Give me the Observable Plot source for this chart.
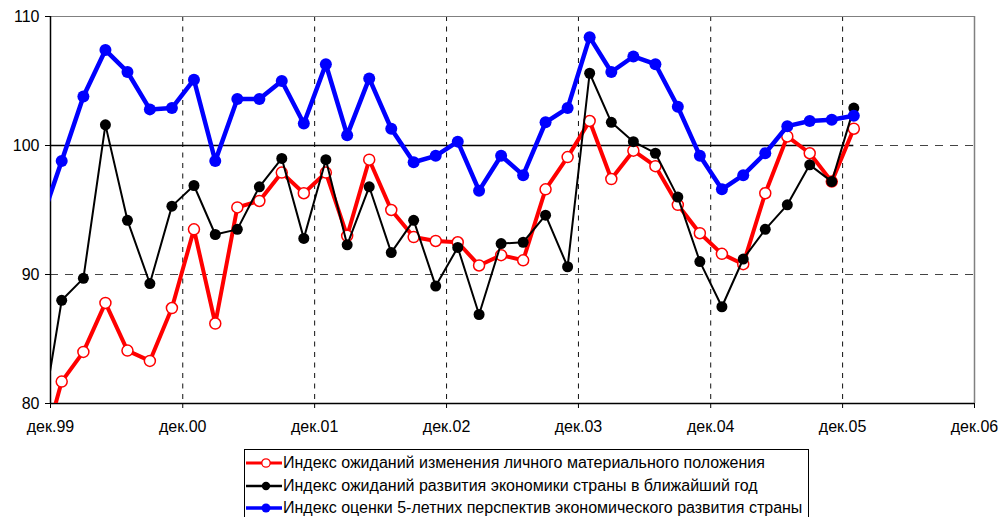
<!DOCTYPE html>
<html>
<head>
<meta charset="utf-8">
<script src="https://cdn.jsdelivr.net/npm/d3@7"></script>
<script src="https://cdn.jsdelivr.net/npm/@observablehq/plot@0.6"></script>
<style>
  html, body { margin: 0; padding: 0; background: #fff; overflow: hidden; }
  body { font-family: Arial, "Liberation Sans", sans-serif; width: 1006px; height: 517px; }
  #chart svg { display: block; }
  .legend {
    margin-left: 244px; margin-top: 2px;
    width: 565px; height: 90px; box-sizing: border-box;
    border: 1px solid #000; padding-top: 2px;
    font-size: 16px; color: #000;
  }
  .legend .row { display: flex; align-items: center; height: 22.5px; white-space: nowrap; }
  .legend svg { display: block; margin-left: 1px; margin-right: 1px; }
</style>
</head>
<body>
<div id="chart"></div>
<div class="legend" id="legend"></div>
<script>
// Survey dates (bimonthly), Nov 1999 - Jan 2006
const months = [
  "1999-11",
  "2000-01","2000-03","2000-05","2000-07","2000-09","2000-11",
  "2001-01","2001-03","2001-05","2001-07","2001-09","2001-11",
  "2002-01","2002-03","2002-05","2002-07","2002-09","2002-11",
  "2003-01","2003-03","2003-05","2003-07","2003-09","2003-11",
  "2004-01","2004-03","2004-05","2004-07","2004-09","2004-11",
  "2005-01","2005-03","2005-05","2005-07","2005-09","2005-11",
  "2006-01"
];
// Индекс ожиданий изменения личного материального положения
const personal = [
  75.5,
  81.7, 84.0, 87.8, 84.1, 83.3, 87.4,
  93.5, 86.2, 95.2, 95.7, 97.9, 96.3,
  97.9, 93.0, 98.9, 95.0, 92.9, 92.6,
  92.5, 90.7, 91.5, 91.1, 96.6, 99.1,
  101.9, 97.4, 99.6, 98.4, 95.4, 93.2,
  91.6, 90.8, 96.3, 100.7, 99.4, 97.2,
  101.3
];
// Индекс ожиданий развития экономики страны в ближайший год
const economyYear = [
  77.6,
  88.0, 89.7, 101.6, 94.2, 89.3, 95.3,
  96.9, 93.1, 93.5, 96.8, 99.0, 92.8,
  98.9, 92.3, 96.8, 91.7, 94.2, 89.1,
  92.1, 86.9, 92.4, 92.5, 94.6, 90.6,
  105.6, 101.8, 100.3, 99.4, 96.0, 91.0,
  87.5, 91.2, 93.5, 95.4, 98.5, 97.2,
  102.9
];
// Индекс оценки 5-летних перспектив экономического развития страны
const fiveYear = [
  93.8,
  98.8, 103.8, 107.4, 105.7, 102.8, 102.9,
  105.1, 98.8, 103.6, 103.6, 105.0, 101.7,
  106.3, 100.8, 105.2, 101.3, 98.7, 99.2,
  100.3, 96.5, 99.2, 97.7, 101.8, 102.9,
  108.4, 105.7, 106.9, 106.3, 103.0, 99.2,
  96.6, 97.7, 99.4, 101.5, 101.9, 102.0,
  102.3
];
const seriesNames = [
  "Индекс ожиданий изменения личного материального положения",
  "Индекс ожиданий развития экономики страны в ближайший год",
  "Индекс оценки 5-летних перспектив экономического развития страны"
];
const seriesColors = ["#ff0000", "#000000", "#0000ff"];
const yTicks = [80, 90, 100, 110];
const xTickYears = [1999, 2000, 2001, 2002, 2003, 2004, 2005, 2006];
const tickMonthName = "дек.";

const parse = d3.utcParse("%Y-%m");
const dates = months.map(parse);
const rows = vals => dates.map((d, i) => ({date: d, value: vals[i]}));
const red = rows(personal), black = rows(economyYear), blue = rows(fiveYear);
const xTicks = xTickYears.map(y => new Date(Date.UTC(y, 11, 1)));
const xDomain = [xTicks[0], xTicks[xTicks.length - 1]];
const yDomain = [yTicks[0], yTicks[yTicks.length - 1]];

const chart = Plot.plot({
  width: 1006,
  height: 447,
  marginLeft: 50,
  marginRight: 32,
  marginTop: 16,
  marginBottom: 44,
  style: {fontFamily: 'Arial, "Liberation Sans", sans-serif', fontSize: "16px", color: "#000", background: "#fff"},
  x: {type: "utc", domain: xDomain, label: null},
  y: {domain: yDomain, label: null},
  marks: [
    // grid
    Plot.ruleX(xTicks.slice(1, -1), {stroke: "#111", strokeDasharray: "5,5.5", strokeWidth: 1}),
    Plot.ruleY(yTicks.slice(1, -1), {stroke: "#444", strokeDasharray: "8,7", strokeWidth: 1}),
    // plot-area border (top, right)
    Plot.ruleY([yDomain[1]], {stroke: "#808080", strokeWidth: 1}),
    Plot.ruleX([xDomain[1]], {stroke: "#808080", strokeWidth: 1.5}),
    // solid reference line at 100 over the data span
    Plot.ruleY([100], {x1: dates[0], x2: dates[dates.length - 1], stroke: "#000", strokeWidth: 1.5, clip: true}),
    // axes
    Plot.ruleX([xDomain[0]], {stroke: "#000", strokeWidth: 1.5}),
    Plot.ruleY([yDomain[0]], {stroke: "#000", strokeWidth: 1.5}),
    Plot.axisY(yTicks, {tickSize: 5, tickPadding: 6, label: null, fontSize: 16}),
    Plot.axisX(xTicks, {
      tickSize: 5, tickPadding: 12, label: null, fontSize: 16,
      tickFormat: d => tickMonthName + String(d.getUTCFullYear()).slice(2)
    }),
    // series
    Plot.line(red, {x: "date", y: "value", stroke: seriesColors[0], strokeWidth: 4, clip: true}),
    Plot.dot(red, {x: "date", y: "value", r: 5.5, fill: "#fff", stroke: seriesColors[0], strokeWidth: 1.5, clip: true}),
    Plot.line(black, {x: "date", y: "value", stroke: seriesColors[1], strokeWidth: 2, clip: true}),
    Plot.dot(black, {x: "date", y: "value", r: 5.5, fill: seriesColors[1], stroke: "none", clip: true}),
    Plot.line(blue, {x: "date", y: "value", stroke: seriesColors[2], strokeWidth: 4.5, clip: true}),
    Plot.dot(blue, {x: "date", y: "value", r: 6, fill: seriesColors[2], stroke: "none", clip: true})
  ]
});
document.getElementById("chart").appendChild(chart);

// legend
const legend = d3.select("#legend");
const markerStyle = [
  {fill: "#fff", stroke: seriesColors[0], sw: 1.3, lw: 3, r: 4.2},
  {fill: seriesColors[1], stroke: "none", sw: 0, lw: 2.5, r: 4.2},
  {fill: seriesColors[2], stroke: "none", sw: 0, lw: 3.5, r: 4.5}
];
seriesNames.forEach((name, i) => {
  const row = legend.append("div").attr("class", "row");
  const svg = row.append("svg").attr("width", 36).attr("height", 14);
  svg.append("line").attr("x1", 0).attr("x2", 36).attr("y1", 7).attr("y2", 7)
    .attr("stroke", seriesColors[i]).attr("stroke-width", markerStyle[i].lw);
  svg.append("circle").attr("cx", 20).attr("cy", 7).attr("r", markerStyle[i].r)
    .attr("fill", markerStyle[i].fill).attr("stroke", markerStyle[i].stroke)
    .attr("stroke-width", markerStyle[i].sw);
  row.append("span").text(name);
});
</script>
</body>
</html>
